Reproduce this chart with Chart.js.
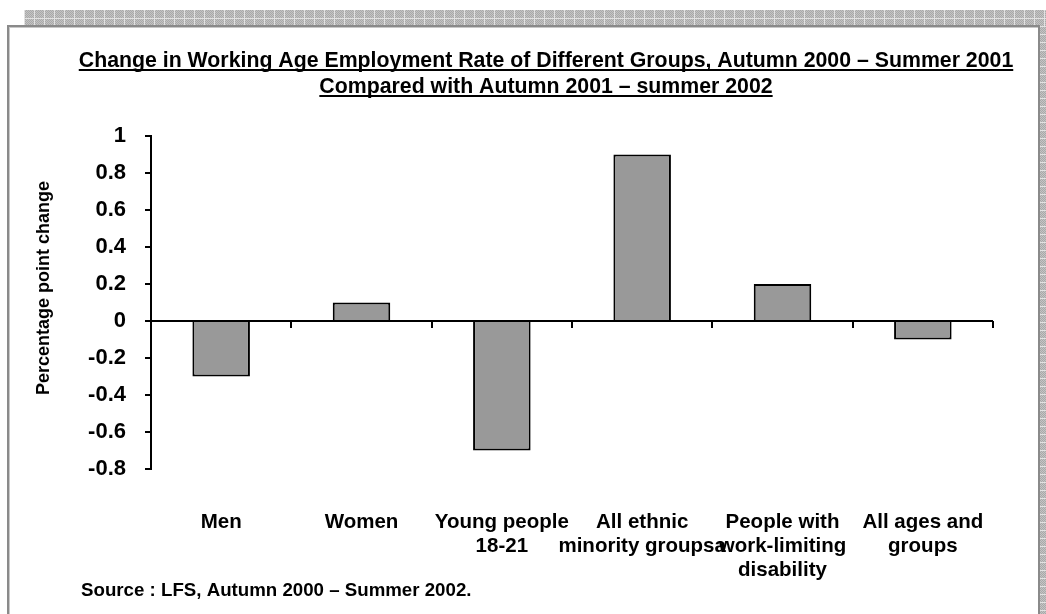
<!DOCTYPE html>
<html>
<head>
<meta charset="utf-8">
<script src="https://cdn.jsdelivr.net/npm/chart.js"></script>
<style>
  html, body { margin: 0; padding: 0; background: #fff; }
  #wrap { width: 1046px; height: 614px; }
</style>
</head>
<body>
<div id="wrap"><canvas id="chart" width="1046" height="614"></canvas></div>
<script>
// Chart data
const groups = [
  'Men',
  'Women',
  ['Young people', '18-21'],
  ['All ethnic', 'minority groupsa'],
  ['People with', 'work-limiting', 'disability'],
  ['All ages and', 'groups']
];
const pointChange = [-0.3, 0.1, -0.7, 0.9, 0.2, -0.1];
const titleLines = [
  'Change in Working Age Employment Rate of Different Groups, Autumn 2000 \u2013 Summer 2001',
  'Compared with Autumn 2001 \u2013 summer 2002'
];
const yTitle = 'Percentage point change';
const sourceNote = 'Source : LFS, Autumn 2000 \u2013 Summer 2002.';

const FONT = '"Liberation Sans", Arial, sans-serif';

// Page frame, hatched border, titles and source note
const framePlugin = {
  id: 'frame',
  beforeDraw(chart) {
    const ctx = chart.ctx;
    const W = chart.width, H = chart.height;
    ctx.save();
    ctx.fillStyle = '#fff';
    ctx.fillRect(0, 0, W, H);

    // hatched page border (top and right)
    const tile = document.createElement('canvas');
    tile.width = 2; tile.height = 2;
    const tc = tile.getContext('2d');
    tc.fillStyle = '#c4c4c4'; tc.fillRect(0, 0, 2, 2);
    tc.fillStyle = '#a9a9a9'; tc.fillRect(0, 0, 1, 1); tc.fillRect(1, 1, 1, 1);
    ctx.fillStyle = ctx.createPattern(tile, 'repeat');
    ctx.fillRect(24, 10, W - 24, 16);
    ctx.fillRect(1040, 10, W - 1040, H - 10);
    ctx.fillStyle = '#e2e2e2';
    for (let x = 24; x < W; x += 10) ctx.fillRect(x, 10, 1, 16);
    ctx.fillRect(24, 18, W - 24, 1);
    for (let y = 18; y < H; y += 8) ctx.fillRect(1040, y, W - 1040, 1);

    // chart frame
    ctx.fillStyle = '#8a8a8a';
    ctx.fillRect(7, 25, 1033, 2);
    ctx.fillRect(7, 25, 2, H - 25);
    ctx.fillRect(1038, 25, 2, H - 25);
    ctx.fillStyle = '#c8c8c8';
    ctx.fillRect(9, 27, 1029, 1);
    ctx.fillRect(9, 27, 1, H - 27);

    // title with underline
    ctx.fillStyle = '#000';
    ctx.font = 'bold 21.3px ' + FONT;
    ctx.textAlign = 'center';
    ctx.textBaseline = 'alphabetic';
    const baselines = [67, 93];
    titleLines.forEach((line, i) => {
      const w = ctx.measureText(line).width;
      ctx.fillText(line, 546, baselines[i]);
      ctx.fillRect(546 - w / 2, baselines[i] + 2, w, 2);
    });

    // y axis title
    ctx.font = 'bold 18px ' + FONT;
    ctx.textBaseline = 'middle';
    ctx.translate(44, 288);
    ctx.rotate(-Math.PI / 2);
    ctx.fillText(yTitle, 0, 0);
    ctx.restore();

    // source note
    ctx.save();
    ctx.fillStyle = '#000';
    ctx.font = 'bold 18.7px ' + FONT;
    ctx.textAlign = 'left';
    ctx.textBaseline = 'middle';
    ctx.fillText(sourceNote, 81, 591);
    ctx.restore();
  },
  // zero line with category tick marks
  afterDatasetsDraw(chart) {
    const ctx = chart.ctx;
    const x = chart.scales.x, y = chart.scales.y;
    const y0 = Math.round(y.getPixelForValue(0));
    ctx.save();
    ctx.strokeStyle = '#000';
    ctx.lineWidth = 2;
    ctx.beginPath();
    ctx.moveTo(x.left, y0);
    ctx.lineTo(x.right, y0);
    const step = (x.right - x.left) / groups.length;
    for (let i = 1; i <= groups.length; i++) {
      const px = Math.round(x.left + i * step);
      ctx.moveTo(px, y0);
      ctx.lineTo(px, y0 + 7);
    }
    ctx.stroke();
    ctx.restore();
  }
};

new Chart(document.getElementById('chart'), {
  type: 'bar',
  data: {
    labels: groups,
    datasets: [{
      data: pointChange,
      backgroundColor: '#999999',
      borderColor: '#000000',
      borderWidth: 2,
      categoryPercentage: 1,
      barPercentage: 0.41
    }]
  },
  options: {
    responsive: false,
    animation: false,
    events: [],
    layout: { padding: { left: 0, top: 136, right: 53, bottom: 0 } },
    plugins: {
      legend: { display: false },
      tooltip: { enabled: false },
      title: { display: false }
    },
    scales: {
      x: {
        grid: { display: false, drawTicks: false },
        border: { display: false },
        ticks: {
          color: '#000',
          font: { family: FONT, size: 20.5, weight: 'bold', lineHeight: 1.17 },
          padding: 41,
          maxRotation: 0,
          minRotation: 0,
          autoSkip: false
        },
        afterFit(scale) { scale.height = 145; }
      },
      y: {
        min: -0.8,
        max: 1,
        grid: { drawOnChartArea: false, color: '#000', tickLength: 6, lineWidth: 2 },
        border: { color: '#000', width: 2 },
        ticks: {
          stepSize: 0.2,
          color: '#000',
          padding: 19,
          font: { family: FONT, size: 22, weight: 'bold' },
          callback: v => String(Math.round(v * 10) / 10)
        },
        afterFit(scale) { scale.width = 151; }
      }
    }
  },
  plugins: [framePlugin]
});
</script>
</body>
</html>
